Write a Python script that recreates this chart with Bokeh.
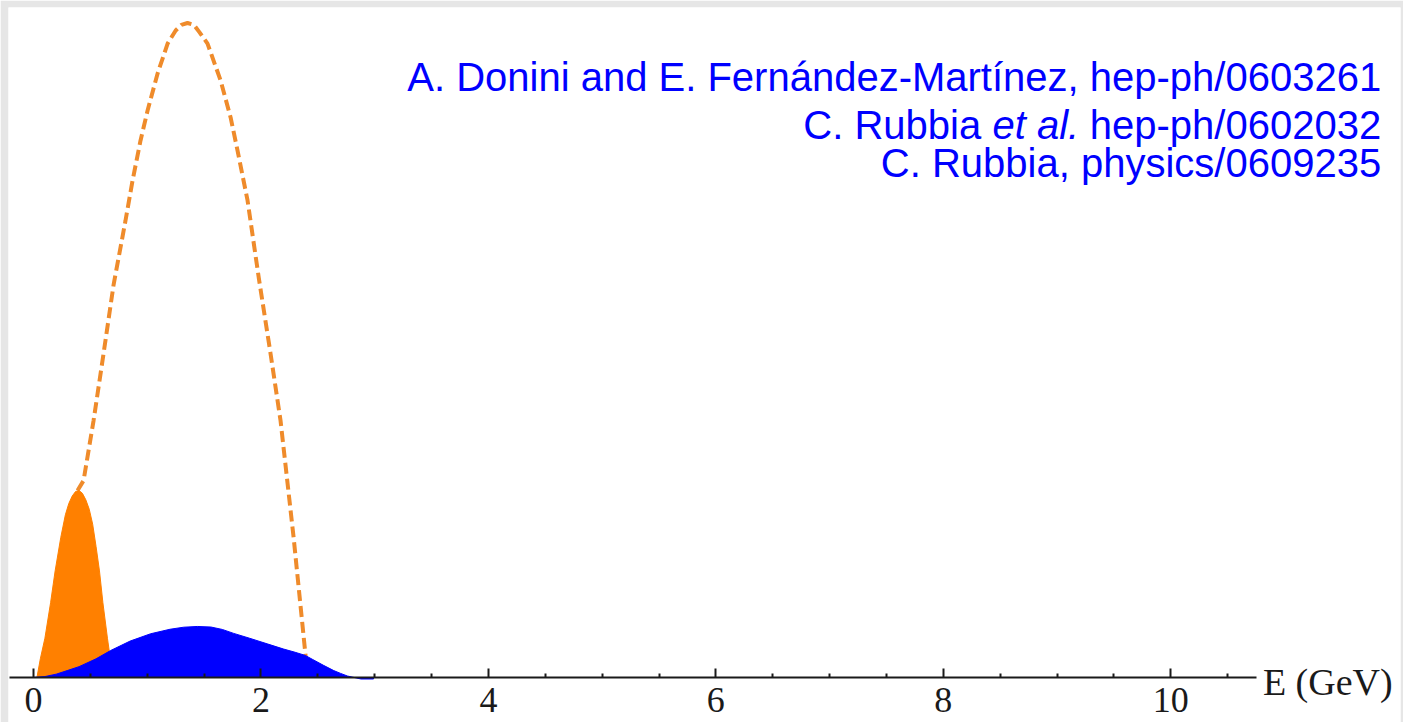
from bokeh.plotting import figure
from bokeh.models import Range1d, FixedTicker, Label
from bokeh.embed import file_html
from bokeh.resources import INLINE

# ---- data (E in GeV, y in arbitrary units; orange peak = 1) ----
orange_E = [0.0, 0.03, 0.06, 0.10, 0.15, 0.19, 0.24, 0.28, 0.31, 0.34, 0.37, 0.40, 0.43, 0.46,
            0.49, 0.52, 0.55, 0.58, 0.61, 0.65, 0.68, 0.70]
orange_y = [0.0, 0.0, 0.10, 0.21, 0.40, 0.57, 0.75, 0.87, 0.93, 0.97, 0.995, 1.0, 0.985, 0.95,
            0.90, 0.82, 0.70, 0.57, 0.40, 0.21, 0.08, 0.0]

dashed_E = [0.387, 0.44, 0.528, 0.616, 0.704, 0.809, 0.871, 0.941, 1.003, 1.091, 1.179, 1.25, 1.30,
            1.354, 1.41, 1.46, 1.530, 1.645, 1.733, 1.794, 1.882, 1.980, 2.084, 2.172, 2.287, 2.392, 2.40]
dashed_y = [1.0, 1.053, 1.374, 1.733, 2.10, 2.444, 2.658, 2.872, 3.032, 3.230, 3.390, 3.46, 3.49,
            3.50, 3.49, 3.45, 3.390, 3.193, 2.995, 2.818, 2.551, 2.14, 1.733, 1.374, 0.749, 0.118, 0.0]

blue_E = [0.0, 0.1, 0.2, 0.296, 0.4, 0.55, 0.677, 0.85, 1.03, 1.2, 1.32, 1.44, 1.56, 1.66, 1.76, 1.9,
          2.055, 2.2, 2.3, 2.39, 2.45, 2.55, 2.64, 2.7, 2.76, 2.82, 2.88, 2.99, 2.99]
blue_y = [0.0, 0.005, 0.018, 0.037, 0.058, 0.1, 0.144, 0.195, 0.234, 0.258, 0.269, 0.273, 0.27, 0.257,
          0.236, 0.21, 0.18, 0.152, 0.135, 0.118, 0.098, 0.065, 0.037, 0.022, 0.008, 0.0, -0.008, -0.008, 0.0]

tick_values = [0, 2, 4, 6, 8, 10]
minor_tick_values = [0.5, 1, 1.5, 2.5, 3, 3.5, 4.5, 5, 5.5, 6.5, 7, 7.5, 8.5, 9, 9.5, 10.5]
axis_title = "E (GeV)"

ref_line1 = "A. Donini and E. Fernández-Martínez, hep-ph/0603261"
ref_line2_a = "C. Rubbia"
ref_line2_b = "et al."
ref_line2_c = "hep-ph/0602032"
ref_line3 = "C. Rubbia, physics/0609235"

p = figure(width=1403, height=722, x_range=Range1d(-0.22, 12.02), y_range=Range1d(-0.2406, 3.583),
           output_backend="svg", toolbar_location=None, y_axis_location=None,
           min_border_left=8, min_border_right=3, min_border_top=7, min_border_bottom=0)
p.border_fill_color = "#e6e6e6"
p.background_fill_color = "white"
p.outline_line_color = None
p.xgrid.visible = False
p.ygrid.visible = False

# curves
p.line(dashed_E, dashed_y, line_color="#ef8b2b", line_width=4, line_dash="11 5")
p.patch(orange_E, orange_y, fill_color="#ff8000", line_color="#ff8000", line_width=1)
p.patch(blue_E, blue_y, fill_color="#0000ff", line_color="#0000ff", line_width=1)

# axis drawn at y = 0 inside the frame
ax = p.xaxis[0]
ax.fixed_location = 0
ax.ticker = FixedTicker(ticks=tick_values, minor_ticks=minor_tick_values)
ax.bounds = (-0.21, 10.75)
ax.axis_line_width = 2
ax.axis_line_color = "#1a1a1a"
ax.major_tick_in = 9
ax.major_tick_out = 0
ax.minor_tick_in = 4
ax.minor_tick_out = 0
ax.major_tick_line_width = 2
ax.minor_tick_line_width = 2
ax.major_tick_line_color = "#1a1a1a"
ax.minor_tick_line_color = "#1a1a1a"
ax.major_label_text_font = "Liberation Serif"
ax.major_label_text_font_size = "36px"
ax.major_label_text_color = "#1a1a1a"
ax.major_label_standoff = 10

p.add_layout(Label(x=10.81, y=0, text=axis_title, text_baseline="middle", text_align="left",
                   text_font="Liberation Serif", text_font_size="38px", text_color="#1a1a1a", y_offset=-4))

# reference texts
font = "Liberation Sans"
fs = "40px"
xr = 11.85
p.add_layout(Label(x=xr, y=3.214, text=ref_line1, text_align="right", text_baseline="middle",
                   text_font=font, text_font_size=fs, text_color="#0000ff"))
p.add_layout(Label(x=xr, y=2.957, text=ref_line2_c, text_align="right", text_baseline="middle",
                   text_font=font, text_font_size=fs, text_color="#0000ff"))
p.add_layout(Label(x=xr, y=2.957, text=ref_line2_b, text_align="right", text_baseline="middle",
                   text_font=font, text_font_size=fs, text_font_style="italic", text_color="#0000ff",
                   x_offset=-302))
p.add_layout(Label(x=xr, y=2.957, text=ref_line2_a, text_align="right", text_baseline="middle",
                   text_font=font, text_font_size=fs, text_color="#0000ff", x_offset=-400))
p.add_layout(Label(x=xr, y=2.749, text=ref_line3, text_align="right", text_baseline="middle",
                   text_font=font, text_font_size=fs, text_color="#0000ff"))

open("out.html", "w").write(file_html(p, INLINE))
